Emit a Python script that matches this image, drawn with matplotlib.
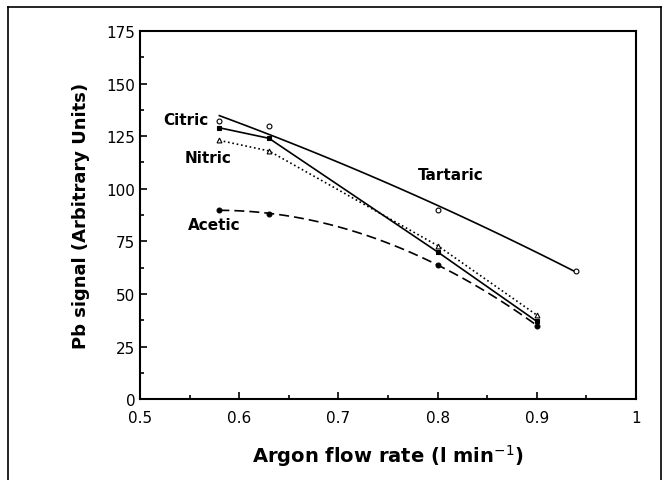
import numpy as np
import matplotlib
matplotlib.use("Agg")
import matplotlib.pyplot as plt
from matplotlib.lines import Line2D
from matplotlib.ticker import MultipleLocator

# ---
# Data (Pb signal vs argon flow rate).
flow = [0.58, 0.63, 0.80, 0.90]
flow_tartaric = [0.58, 0.63, 0.80, 0.94]
tartaric = [132, 130, 90, 61]
citric = [129, 124, 70, 37]
nitric = [123, 118, 73, 40]
acetic = [90, 88, 64, 35]

fig = plt.figure(figsize=(6.68, 4.81), dpi=100)
ax = fig.add_axes([0.2096, 0.168, 0.7424, 0.7655])

# ---
# Plot each series: markers plus a line through them
# (quadratic trend for the curved ones, straight segments otherwise).
def series(x, y, ls, marker, mfc, fit=True):
    if fit:
        coef = np.polyfit(x, y, 2)
        xs = np.linspace(min(x), max(x), 100)
        ax.plot(xs, np.polyval(coef, xs), color="black", ls=ls, lw=1.2)
    else:
        ax.plot(x, y, color="black", ls=ls, lw=1.2)
    ax.plot(x, y, ls="none", marker=marker, ms=3.5, mfc=mfc, mec="black", mew=0.8)

series(flow_tartaric, tartaric, "-", "o", "white")
series(flow, citric, "-", "s", "black", fit=False)
series(flow, nitric, ":", "^", "white", fit=False)
series(flow, acetic, (0, (6, 3)), "o", "black")

lbl = dict(fontsize=11, fontweight="bold", ha="center", va="center")
ax.text(0.546, 133, "Citric", **lbl)
ax.text(0.569, 115, "Nitric", **lbl)
ax.text(0.813, 107, "Tartaric", **lbl)
ax.text(0.575, 83, "Acetic", **lbl)

ax.set_xlim(0.5, 1.0)
ax.set_ylim(0, 175)
ax.xaxis.set_major_locator(MultipleLocator(0.1))
ax.xaxis.set_minor_locator(MultipleLocator(0.05))
ax.yaxis.set_major_locator(MultipleLocator(25))
ax.yaxis.set_minor_locator(MultipleLocator(12.5))
ax.set_xticks([0.5, 0.6, 0.7, 0.8, 0.9, 1.0], ["0.5", "0.6", "0.7", "0.8", "0.9", "1"])
ax.tick_params(which="both", direction="in", labelsize=11, width=1.2)
ax.tick_params(which="major", length=5)
ax.tick_params(which="minor", length=3)
ax.tick_params(axis="x", pad=8)
for s in ax.spines.values():
    s.set_linewidth(1.5)

ax.set_xlabel("Argon flow rate (l min$^{-1}$)", fontsize=14, fontweight="bold", labelpad=12)
ax.set_ylabel("Pb signal (Arbitrary Units)", fontsize=13, fontweight="bold", labelpad=12)

# Outer frame (top, left and right edges).
for xs, ys in [([0.012, 0.99], [0.983, 0.983]), ([0.012, 0.012], [0.0, 0.983]), ([0.99, 0.99], [0.0, 0.983])]:
    fig.add_artist(Line2D(xs, ys, color="black", lw=1.2, transform=fig.transFigure))

fig.savefig("out.png", dpi=100)
